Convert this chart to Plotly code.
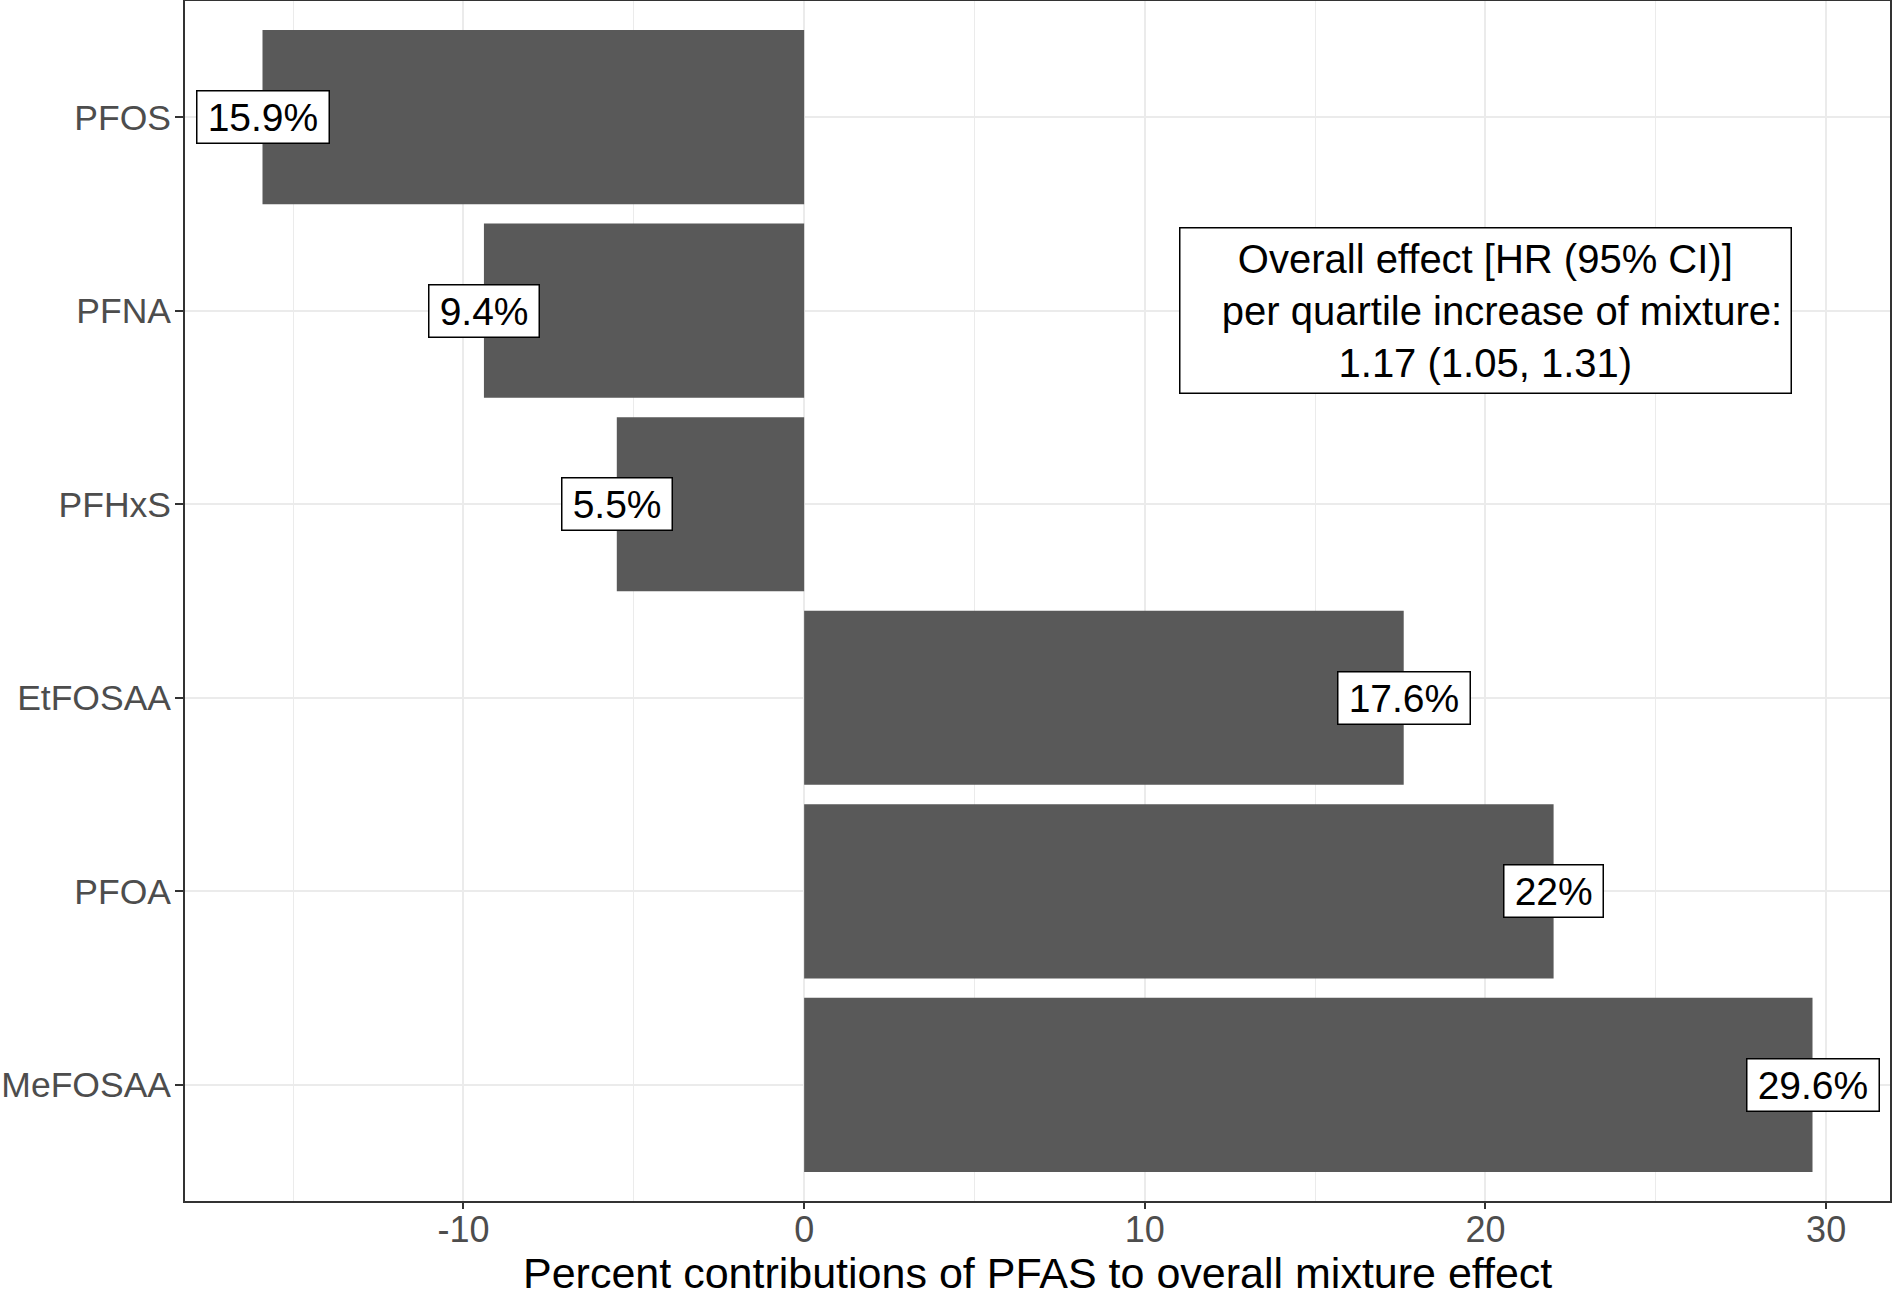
import plotly.graph_objects as go

categories = ["PFOS", "PFNA", "PFHxS", "EtFOSAA", "PFOA", "MeFOSAA"]
values = [-15.9, -9.4, -5.5, 17.6, 22.0, 29.6]
labels = ["15.9%", "9.4%", "5.5%", "17.6%", "22%", "29.6%"]
x_ticks = [-10, 0, 10, 20, 30]
x_ticktext = ["-10", "0", "10", "20", "30"]
x_title = "Percent contributions of PFAS to overall mixture effect"
box_text = ["Overall effect [HR (95% CI)]",
            "&nbsp;&nbsp;&nbsp;per quartile increase of mixture:",
            "1.17 (1.05, 1.31)"]
box_x = 20
box_y = "PFNA"

FONT = "Liberation Sans, Arial, sans-serif"
PADSP = "<span style='font-size:22px'>&nbsp;</span>"

fig = go.Figure()
fig.add_trace(go.Bar(
    x=values, y=categories, orientation="h",
    marker=dict(color="#595959", line=dict(width=0)),
    width=0.9, hoverinfo="skip", showlegend=False,
))

annotations = []
for v, c, t in zip(values, categories, labels):
    annotations.append(dict(
        x=v, y=c, xref="x", yref="y", text=PADSP + t + PADSP, showarrow=False,
        font=dict(family=FONT, size=39, color="black"),
        bgcolor="white", bordercolor="black", borderwidth=1.5, borderpad=4,
        xanchor="center", yanchor="middle",
    ))
annotations.append(dict(
    x=box_x, y=box_y, xref="x", yref="y", text="<br>".join(box_text),
    showarrow=False, align="center",
    font=dict(family=FONT, size=40, color="black"),
    bgcolor="white", bordercolor="black", borderwidth=1.5, borderpad=8,
    xanchor="center", yanchor="middle",
))
annotations.append(dict(
    x=0.5, y=0, xref="paper", yref="paper", text=x_title, showarrow=False,
    font=dict(family=FONT, size=43, color="black"),
    xanchor="center", yanchor="middle", yshift=-72,
))

fig.update_layout(
    width=1892, height=1289,
    margin=dict(l=185, r=2, t=1, b=88),
    plot_bgcolor="white", paper_bgcolor="white",
    bargap=0.1,
    annotations=annotations,
    xaxis=dict(
        range=[-18.175, 31.875], automargin=False,
        tickvals=x_ticks, ticktext=x_ticktext,
        showgrid=True, gridcolor="#ebebeb", gridwidth=1.5,
        minor=dict(dtick=5, tick0=-15, showgrid=True, gridcolor="#ebebeb", gridwidth=0.8, ticks=""),
        zeroline=False,
        showline=True, linecolor="#333333", linewidth=1.8, mirror=True,
        ticks="outside", ticklen=6, tickcolor="#333333", tickwidth=1.5,
        tickfont=dict(family=FONT, size=36, color="#4d4d4d"),
        ticklabelstandoff=-10,
    ),
    yaxis=dict(
        type="category", categoryorder="array", categoryarray=categories,
        range=[5.6, -0.6], automargin=False,
        showgrid=True, gridcolor="#ebebeb", gridwidth=1.5,
        zeroline=False,
        showline=True, linecolor="#333333", linewidth=1.8, mirror=True,
        ticks="outside", ticklen=8, tickcolor="#333333", tickwidth=1.5,
        tickfont=dict(family=FONT, size=35.5, color="#4d4d4d"),
        ticklabelstandoff=-3,
    ),
)

fig.write_html("out.html", config={"displayModeBar": False},
               post_script="document.body.style.margin='0';")
